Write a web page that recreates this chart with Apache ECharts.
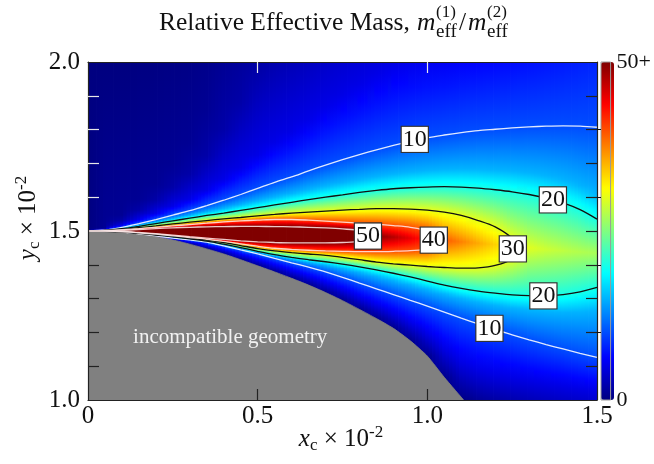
<!DOCTYPE html>
<html><head><meta charset="utf-8">
<script src="https://cdn.jsdelivr.net/npm/echarts@6/dist/echarts.min.js"></script>
<style>html,body{margin:0;padding:0;background:#fff}#c{width:654px;height:464px}</style>
</head><body><div id="c"></div>
<script>
// ---------- axes ----------
const xTickLabels = [0, 0.5, 1.0, 1.5];
const yTickLabels = [1.0, 1.5, 2.0];
const xMinor = [0.5, 1.0];
const yMinorLow = [1.1, 1.2, 1.3, 1.4];
const yMinorHigh = [1.6, 1.7, 1.8, 1.9];
const barTicks = [10, 20, 30, 40];

// ---------- field: one column per x node ----------
const colX = [0, 0.05, 0.1, 0.15, 0.2, 0.25, 0.3, 0.35, 0.4, 0.45, 0.5, 0.55, 0.6, 0.65, 0.7, 0.75, 0.8, 0.85, 0.9, 0.95, 1.0, 1.05, 1.1, 1.15, 1.2, 1.25, 1.3, 1.35, 1.4, 1.45, 1.5];
// value at the top edge (y = 2.0)
const topV = [0, 0, 0, 0.1, 0.15, 0.25, 0.35, 0.6, 1.0, 1.4, 1.9, 2.3, 2.7, 3.1, 3.6, 4.0, 4.3, 4.6, 4.95, 5.3, 5.6, 5.8, 6.1, 6.3, 6.5, 6.7, 6.95, 7.2, 7.4, 7.7, 8.0];
// y where the value crosses each level, above the ridge
const u1 = [null, 1.5109, 1.5471, 1.5942, 1.6383, 1.6989, 1.7603, 1.854, null, null, null, null, null, null, null, null, null, null, null, null, null, null, null, null, null, null, null, null, null, null, null];
const u2 = [null, 1.5074, 1.5305, 1.5611, 1.5909, 1.6293, 1.6682, 1.7233, 1.8015, 1.8805, 1.973, null, null, null, null, null, null, null, null, null, null, null, null, null, null, null, null, null, null, null, null];
const u5 = [null, 1.5045, 1.5171, 1.5343, 1.5521, 1.573, 1.5939, 1.6206, 1.6535, 1.6872, 1.7247, 1.7623, 1.793, 1.831, 1.869, 1.9036, 1.935, 1.966, 1.9956, null, null, null, null, null, null, null, null, null, null, null, null];
const u10 = [1.5, 1.503, 1.511, 1.522, 1.534, 1.547, 1.560, 1.575, 1.591, 1.608, 1.626, 1.644, 1.660, 1.678, 1.695, 1.711, 1.726, 1.740, 1.753, 1.765, 1.776, 1.784, 1.791, 1.797, 1.801, 1.805, 1.808, 1.810, 1.811, 1.810, 1.807];
const u15 = [null, 1.5024, 1.5085, 1.5169, 1.5264, 1.5362, 1.546, 1.5565, 1.5666, 1.5776, 1.5889, 1.6003, 1.611, 1.6224, 1.6327, 1.6426, 1.6523, 1.6609, 1.6684, 1.6745, 1.6792, 1.6824, 1.6838, 1.6833, 1.6806, 1.6773, 1.672, 1.6637, 1.652, 1.6345, 1.6082];
const u20 = [1.5, 1.502, 1.507, 1.514, 1.522, 1.530, 1.538, 1.546, 1.553, 1.561, 1.569, 1.577, 1.585, 1.593, 1.600, 1.607, 1.614, 1.620, 1.625, 1.628, 1.630, 1.631, 1.630, 1.627, 1.622, 1.616, 1.608, 1.597, 1.583, 1.563, 1.535];
const u30 = [1.5, 1.5015, 1.505, 1.510, 1.515, 1.521, 1.526, 1.531, 1.536, 1.540, 1.545, 1.549, 1.553, 1.556, 1.559, 1.562, 1.564, 1.566, 1.566, 1.565, 1.562, 1.556, 1.546, 1.531, 1.512, 1.478, null, null, null, null, null];
const u40 = [1.5, 1.5012, 1.504, 1.507, 1.511, 1.515, 1.519, 1.523, 1.527, 1.530, 1.532, 1.534, 1.534, 1.532, 1.529, 1.526, 1.523, 1.520, 1.516, 1.511, 1.500, null, null, null, null, null, null, null, null, null, null];
const u50 = [1.5, 1.5006, 1.502, 1.5045, 1.507, 1.5095, 1.511, 1.5125, 1.513, 1.5135, 1.5135, 1.513, 1.5125, 1.511, 1.509, 1.506, 1.501, null, null, null, null, null, null, null, null, null, null, null, null, null, null];
// ridge line and its value (50+ is clipped)
const pkY = [1.5, 1.4998, 1.4995, 1.499, 1.4985, 1.498, 1.497, 1.4955, 1.494, 1.4925, 1.491, 1.4895, 1.488, 1.487, 1.486, 1.485, 1.485, 1.484, 1.482, 1.479, 1.476, 1.472, 1.468, 1.464, 1.46, 1.455, 1.45, 1.446, 1.442, 1.438, 1.435];
const pkV = [60, 60, 60, 60, 60, 60, 60, 60, 60, 60, 60, 60, 60, 60, 58, 56, 53, 49.5, 47.5, 45, 42, 39.5, 37.5, 35.5, 33.5, 31.5, 29.8, 28.8, 28.1, 27.5, 27];
// crossings below the ridge
const l50 = [1.5, 1.4997, 1.4985, 1.4955, 1.492, 1.488, 1.483, 1.479, 1.475, 1.471, 1.468, 1.466, 1.465, 1.465, 1.465, 1.466, 1.469, null, null, null, null, null, null, null, null, null, null, null, null, null, null];
const l40 = [1.5, 1.4995, 1.498, 1.4945, 1.4905, 1.4858, 1.4805, 1.4755, 1.469, 1.462, 1.455, 1.449, 1.4455, 1.443, 1.441, 1.440, 1.439, 1.439, 1.440, 1.442, 1.447, null, null, null, null, null, null, null, null, null, null];
const l30 = [1.5, 1.4994, 1.4976, 1.4937, 1.4893, 1.4842, 1.4785, 1.473, 1.466, 1.457, 1.448, 1.441, 1.436, 1.432, 1.428, 1.422, 1.415, 1.408, 1.403, 1.399, 1.395, 1.392, 1.390, 1.391, 1.398, 1.418, null, null, null, null, null];
const l20 = [1.5, 1.4993, 1.4972, 1.4928, 1.488, 1.4825, 1.4765, 1.470, 1.461, 1.451, 1.440, 1.430, 1.422, 1.415, 1.409, 1.402, 1.394, 1.385, 1.375, 1.364, 1.352, 1.340, 1.330, 1.322, 1.316, 1.311, 1.309, 1.309, 1.312, 1.320, 1.333];
const l15 = [null, 1.4993, 1.497, 1.4925, 1.4872, 1.4813, 1.4755, 1.469, 1.4594, 1.4487, 1.4374, 1.4264, 1.4167, 1.4077, 1.3991, 1.3891, 1.3782, 1.3665, 1.3542, 1.3412, 1.3276, 1.3136, 1.301, 1.29, 1.2804, 1.272, 1.2658, 1.2612, 1.2589, 1.26, 1.2647];
const l10 = [1.5, 1.4992, 1.4967, 1.4918, 1.4855, 1.479, 1.4735, 1.467, 1.456, 1.444, 1.432, 1.419, 1.406, 1.393, 1.379, 1.363, 1.346, 1.329, 1.312, 1.295, 1.278, 1.260, 1.242, 1.225, 1.208, 1.193, 1.178, 1.164, 1.151, 1.138, 1.126];
const l5 = [null, 1.4991, 1.4963, 1.4913, 1.4845, 1.476, 1.4666, 1.456, 1.4428, 1.428, 1.4128, 1.397, 1.3807, 1.3639, 1.3455, 1.3251, 1.3031, 1.2806, 1.257, 1.229, 1.1966, 1.1539, 1.1133, 1.09, 1.076, 1.067, 1.058, 1.05, 1.042, 1.034, 1.027];
// lowest coloured point of each column and its value
const botY = [1.0, 1.499, 1.4959, 1.4908, 1.4836, 1.4735, 1.461, 1.447, 1.432, 1.415, 1.397, 1.379, 1.36, 1.34, 1.318, 1.294, 1.268, 1.241, 1.212, 1.175, 1.13, 1.067, 1.008, 1.0, 1.0, 1.0, 1.0, 1.0, 1.0, 1.0, 1.0];
const botV = [0, 0.5, 0.5, 0.5, 0.5, 0.5, 0.5, 0.5, 0.5, 0.5, 0.5, 0.5, 0.5, 0.5, 0.5, 0.5, 0.5, 0.5, 0.5, 0.5, 0.5, 0.5, 0.5, 1.2, 1.8, 2.3, 2.7, 3.1, 3.4, 3.7, 4.0];

// closed contour tips (levels 30, 40, 50)
const tipLevels = [30, 40, 50];
const tipX = [1.262, 1.04, 0.835];
const tipY = [1.448, 1.474, 1.485];

// incompatible-geometry boundary
const edgeX = [0, 0.05, 0.1, 0.15, 0.2, 0.25, 0.3, 0.35, 0.4, 0.45, 0.5, 0.55, 0.6, 0.65, 0.7, 0.75, 0.8, 0.85, 0.9, 0.95, 1.0, 1.05, 1.107];
const edgeY = [1.5, 1.499, 1.4959, 1.4908, 1.4836, 1.4735, 1.461, 1.447, 1.432, 1.415, 1.397, 1.379, 1.36, 1.34, 1.318, 1.294, 1.268, 1.241, 1.212, 1.175, 1.13, 1.067, 1.0];

// contour labels
const labelText = ['10', '10', '20', '20', '30', '40', '50'];
const labelX = [0.963, 1.183, 1.370, 1.342, 1.252, 1.019, 0.825];
const labelY = [1.771, 1.212, 1.592, 1.308, 1.447, 1.473, 1.485];

// annotation
const noteText = ['incompatible geometry'];
const noteX = [0.419];
const noteY = [1.186];

// ---------- helpers ----------
const FONT = 'Liberation Serif, Times New Roman, serif';
const Y_TOP = 2.0, Y_BOT = 1.0, X_MIN = 0, X_MAX = 1.5, V_MAX = 50;
const jetColors = ['#000080', '#0000ff', '#0080ff', '#00ffff', '#80ff80', '#ffff00', '#ff8000', '#ff0000', '#800000'];

function jet(t) {
  t = Math.max(0, Math.min(1, t));
  const c = v => Math.round(255 * Math.max(0, Math.min(1, v)));
  return 'rgb(' + c(1.5 - Math.abs(4 * t - 3)) + ',' + c(1.5 - Math.abs(4 * t - 2)) + ',' + c(1.5 - Math.abs(4 * t - 1)) + ')';
}

function buildProfile(i) {
  if (u10[i] === pkY[i]) return { ys: [Y_TOP, Y_BOT], vs: [0, 0] }; // fan has no width at x = 0
  const ys = [], vs = [];
  const add = (y, v) => { if (y !== null && y !== undefined) { ys.push(y); vs.push(v); } };
  add(Y_TOP, topV[i]); add(u1[i], 1); add(u2[i], 2); add(u5[i], 5); add(u10[i], 10); add(u15[i], 15); add(u20[i], 20);
  add(u30[i], 30); add(u40[i], 40); add(u50[i], 50); add(pkY[i], pkV[i]);
  add(l50[i], 50); add(l40[i], 40); add(l30[i], 30); add(l20[i], 20); add(l15[i], 15); add(l10[i], 10); add(l5[i], 5);
  add(botY[i], botV[i]);
  if (botY[i] > Y_BOT) add(Y_BOT, 0);
  return { ys, vs };
}
const profiles = colX.map((_, i) => buildProfile(i));

function evalP(p, y) {
  const ys = p.ys, vs = p.vs;
  if (y >= ys[0]) return vs[0];
  for (let k = 1; k < ys.length; k++) {
    if (y >= ys[k]) {
      const y0 = ys[k - 1], y1 = ys[k];
      return y0 === y1 ? vs[k] : vs[k - 1] + (vs[k] - vs[k - 1]) * (y0 - y) / (y0 - y1);
    }
  }
  return vs[vs.length - 1];
}

function renderColumn(params, api) {
  const i = api.value(2);
  const x = api.value(0);
  const step = 0.05, half = step / 2;
  const x0 = Math.max(X_MIN, x - half), x1 = Math.min(X_MAX, x + half);
  const S = 5;
  const pi = profiles[i];
  const children = [];
  for (let s = 0; s < S; s++) {
    const a = x0 + (x1 - x0) * s / S, b = x0 + (x1 - x0) * (s + 1) / S;
    const xm = (a + b) / 2;
    const j = xm < x ? i - 1 : i + 1;
    const pj = (j >= 0 && j < profiles.length) ? profiles[j] : null;
    const f = pj ? Math.abs(xm - x) / step : 0;
    let ys = pi.ys.slice();
    if (pj) ys = ys.concat(pj.ys);
    ys = Array.from(new Set(ys)).sort((p, q) => q - p);
    const val = y => (1 - f) * evalP(pi, y) + (pj ? f * evalP(pj, y) : 0);
    const samples = [];
    let py = null, pv = null;
    ys.forEach(y => {
      const v = val(y);
      if (py !== null) {
        const lo = Math.min(Math.max(v, 0), V_MAX), hi = Math.min(Math.max(pv, 0), V_MAX);
        const n = Math.ceil(Math.abs(lo - hi) / 1.5);
        for (let k = 1; k < n; k++) {
          const yy = py + (y - py) * k / n;
          samples.push([yy, val(yy)]);
        }
      }
      samples.push([y, v]);
      py = y; pv = v;
    });
    const pTop = api.coord([xm, Y_TOP]), pBot = api.coord([xm, Y_BOT]);
    const H = pBot[1] - pTop[1];
    const stops = samples.map(sv => ({
      offset: Math.max(0, Math.min(1, (api.coord([xm, sv[0]])[1] - pTop[1]) / H)),
      color: jet(sv[1] / V_MAX)
    }));
    const pa = api.coord([a, Y_TOP]), pb = api.coord([b, Y_BOT]);
    children.push({
      type: 'rect',
      shape: { x: pa[0] - 0.4, y: pa[1], width: pb[0] - pa[0] + 0.8, height: pb[1] - pa[1] },
      style: { fill: new echarts.graphic.LinearGradient(0, 0, 0, 1, stops) }
    });
  }
  return { type: 'group', children };
}

function branch(arr) {
  const out = [];
  colX.forEach((x, i) => { if (arr[i] !== null) out.push([x, arr[i]]); });
  return out;
}
const lineColor = { 10: 'rgba(255,255,255,0.88)', 20: '#111', 30: '#111', 40: 'rgba(255,235,235,0.85)', 50: 'rgba(255,235,235,0.85)' };
function contourSeries(level, data) {
  return {
    type: 'line', data, symbol: 'none', smooth: 0.3, silent: true, z: 4,
    lineStyle: { color: lineColor[level], width: 1.3 }, clip: true
  };
}
const contourList = [
  contourSeries(10, branch(u10)), contourSeries(10, branch(l10)),
  contourSeries(20, branch(u20)), contourSeries(20, branch(l20))
];
const upperOf = { 30: u30, 40: u40, 50: u50 }, lowerOf = { 30: l30, 40: l40, 50: l50 };
tipLevels.forEach((lv, k) => {
  const data = branch(upperOf[lv]).concat([[tipX[k], tipY[k]]], branch(lowerOf[lv]).reverse());
  contourList.push(contourSeries(lv, data));
});

const tickFmt = v => (v === 0 ? '0' : v.toFixed(1));
const nameRich = {
  i: { fontSize: 25, fontStyle: 'italic', fontFamily: FONT, lineHeight: 30 },
  s: { fontSize: 17, fontFamily: FONT, lineHeight: 16, verticalAlign: 'bottom' },
  n: { fontSize: 25, fontFamily: FONT, lineHeight: 30 },
  p: { fontSize: 17, fontFamily: FONT, lineHeight: 16, verticalAlign: 'top' }
};
function titleText(x, y, text, size, italic) {
  return { type: 'text', x, y, silent: true, style: { text, fontSize: size, fontStyle: italic ? 'italic' : 'normal', fontFamily: FONT, fill: '#111', align: 'left', verticalAlign: 'middle' } };
}

const chart = echarts.init(document.getElementById('c'), null, { renderer: 'canvas' });
chart.setOption({
  animation: false,
  textStyle: { fontFamily: FONT },
  grid: [
    { left: 88, top: 62, width: 509, height: 338 },
    { left: 601, top: 62, width: 13, height: 338, show: true, z: 10, backgroundColor: 'rgba(0,0,0,0)', borderColor: '#9a9a9a', borderWidth: 1 }
  ],
  xAxis: [
    { gridIndex: 0, type: 'value', min: X_MIN, max: X_MAX, interval: 0.5, position: 'bottom', z: 20,
      axisLine: { show: true, lineStyle: { color: '#222', width: 1.2 } },
      axisTick: { show: true, inside: true, length: 11, customValues: xMinor, lineStyle: { color: '#222', width: 1.2 } },
      axisLabel: { show: true, customValues: xTickLabels, formatter: tickFmt, fontSize: 25, fontFamily: FONT, color: '#111', margin: 4 },
      splitLine: { show: false } },
    { gridIndex: 0, type: 'value', min: X_MIN, max: X_MAX, interval: 0.5, position: 'top', z: 20,
      axisLine: { show: true, lineStyle: { color: '#222', width: 1.2 } },
      axisTick: { show: true, inside: true, length: 11, customValues: xMinor, lineStyle: { color: '#e8e8e8', width: 1.2 } },
      axisLabel: { show: false }, splitLine: { show: false } },
    { gridIndex: 1, type: 'value', min: 0, max: 1, show: false }
  ],
  yAxis: [
    { gridIndex: 0, type: 'value', min: Y_BOT, max: Y_TOP, interval: 0.5, position: 'left', z: 20,
      axisLine: { show: true, lineStyle: { color: '#222', width: 1.2 } },
      axisTick: { show: true, inside: true, length: 11, customValues: yMinorLow, lineStyle: { color: '#222', width: 1.2 } },
      axisLabel: { show: true, customValues: yTickLabels, formatter: v => v.toFixed(1), fontSize: 25, fontFamily: FONT, color: '#111', margin: 8 },
      splitLine: { show: false } },
    { gridIndex: 0, type: 'value', min: Y_BOT, max: Y_TOP, position: 'left', z: 20,
      axisLine: { show: false },
      axisTick: { show: true, inside: true, length: 11, customValues: yMinorHigh, lineStyle: { color: '#e8e8e8', width: 1.2 } },
      axisLabel: { show: false }, splitLine: { show: false } },
    { gridIndex: 0, type: 'value', min: Y_BOT, max: Y_TOP, position: 'right', z: 20,
      axisLine: { show: true, lineStyle: { color: '#222', width: 1.2 } },
      axisTick: { show: true, inside: true, length: 11, customValues: yMinorLow.concat([1.5], yMinorHigh), lineStyle: { color: '#222', width: 1.2 } },
      axisLabel: { show: false }, splitLine: { show: false } },
    { gridIndex: 1, type: 'value', min: 0, max: V_MAX, position: 'right', z: 21,
      axisLine: { show: false },
      axisTick: { show: true, inside: true, length: 4, customValues: barTicks, lineStyle: { color: '#111', width: 1 } },
      axisLabel: { show: true, customValues: [0, V_MAX], formatter: v => (v >= V_MAX ? V_MAX + '+' : String(v)), fontSize: 22, fontFamily: FONT, color: '#111', margin: 6 },
      splitLine: { show: false } }
  ],
  visualMap: {
    type: 'continuous', min: 0, max: V_MAX, seriesIndex: 0, dimension: 2, calculable: false,
    orient: 'vertical', left: 596, top: 57, itemWidth: 13, itemHeight: 338, padding: 5,
    inRange: { color: jetColors }, hoverLink: false, z: 4
  },
  graphic: [
    titleText(159, 23, 'Relative Effective Mass, ', 25.5, false),
    titleText(417, 23, 'm', 25.5, true),
    titleText(436, 13, '(1)', 17, false),
    titleText(436, 32, 'eff', 19, false),
    titleText(459, 23, '/', 25.5, false),
    titleText(468, 23, 'm', 25.5, true),
    titleText(487, 13, '(2)', 17, false),
    titleText(487, 32, 'eff', 19, false),
    { type: 'text', x: 341, y: 439, silent: true, style: {
        text: '{i|x}{s|c}{n| × 10}{p|-2}', align: 'center', verticalAlign: 'middle', fill: '#111', fontFamily: FONT, rich: nameRich } },
    { type: 'text', x: 28, y: 218, rotation: Math.PI / 2, silent: true, style: {
        text: '{i|y}{s|c}{n| × 10}{p|-2}', align: 'center', verticalAlign: 'middle', fill: '#111', fontFamily: FONT, rich: nameRich } }
  ],
  series: [
    { type: 'custom', name: 'field', xAxisIndex: 0, yAxisIndex: 0, clip: true, silent: true, z: 1,
      renderItem: renderColumn, encode: { x: 0, y: 1 },
      data: colX.map((x, i) => [x, pkY[i], i]) },
    { type: 'line', name: 'incompatible', xAxisIndex: 0, yAxisIndex: 0, silent: true, z: 3, symbol: 'none', smooth: 0.2,
      data: edgeX.map((x, i) => [x, edgeY[i]]),
      lineStyle: { color: '#808080', width: 0.8 },
      areaStyle: { color: '#808080', opacity: 1, origin: 'start' } }
  ].concat(contourList).concat([
    { type: 'scatter', name: 'labels', silent: true, z: 6, symbolSize: 1, itemStyle: { color: 'rgba(0,0,0,0)', opacity: 1 },
      data: labelX.map((x, k) => [x, labelY[k]]),
      label: { show: true, position: 'inside', formatter: p => labelText[p.dataIndex], fontSize: 24, lineHeight: 23, fontFamily: FONT, color: '#111', opacity: 1,
        backgroundColor: '#ffffff', borderColor: '#333', borderWidth: 1.2, padding: [1, 1, 1, 1] } },
    { type: 'scatter', name: 'note', silent: true, z: 6, symbolSize: 1, itemStyle: { color: 'rgba(0,0,0,0)', opacity: 1 },
      data: noteX.map((x, k) => [x, noteY[k]]),
      label: { show: true, position: 'inside', formatter: p => noteText[p.dataIndex], fontSize: 21, fontFamily: FONT, color: '#f2f2f2', opacity: 1 } }
  ])
});
</script></body></html>
